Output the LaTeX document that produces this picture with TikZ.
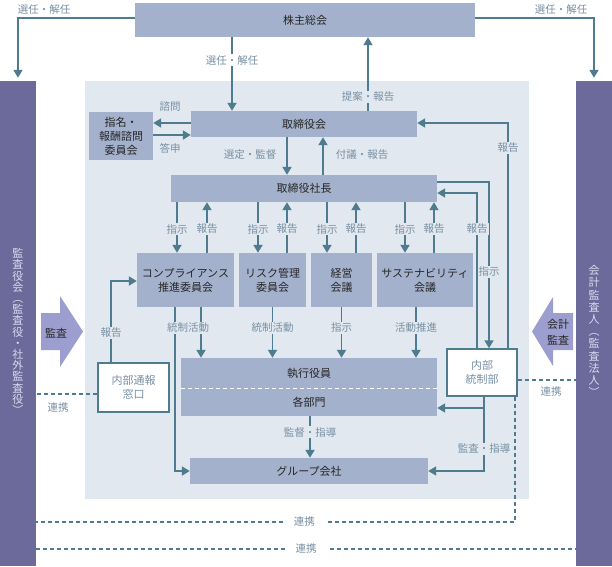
\documentclass[tikz,border=0pt]{standalone}
\usepackage{fontspec}
\setmainfont{Noto Sans CJK JP}
\usetikzlibrary{arrows.meta}
\definecolor{boxc}{HTML}{A4B1CC}
\definecolor{panelc}{HTML}{E1E8EF}
\definecolor{linec}{HTML}{4F7B8E}
\definecolor{lblc}{HTML}{7890A4}
\definecolor{barc}{HTML}{6C6A9B}
\definecolor{bartxt}{HTML}{DADAEE}
\definecolor{auditc}{HTML}{9C9ECF}
\definecolor{txtc}{HTML}{262626}
\begin{document}
\begin{tikzpicture}[x=1pt,y=-1pt,
  box/.style={fill=boxc, text=txtc, font=\fontsize{11}{14}\selectfont, align=center, inner sep=0pt},
  wbox/.style={box, fill=white, draw=linec, line width=1.5pt},
  bar/.style={fill=barc, inner sep=0pt, minimum width=36pt, minimum height=485pt},
  bartext/.style={text=bartxt, align=center, inner sep=0pt},
  arr/.style={draw=linec, line width=1.8pt, -{Triangle[length=8pt,width=9pt]}},
  link/.style={draw=linec, line width=1.5pt, dash pattern=on 4pt off 3pt},
  lbl/.style={text=lblc, font=\fontsize{10.5}{12}\selectfont, fill=panelc, inner sep=1pt},
  wlbl/.style={lbl, fill=white}]
\useasboundingbox (0,0) rectangle (612,566);
\fill[panelc] (85,81) rectangle (529,499);

% boxes
\node[box, minimum width=340pt, minimum height=34pt] (agm) at (305,20) {株主総会};
\node[box, minimum width=226pt, minimum height=26pt] (board) at (304,124) {取締役会};
\node[box, minimum width=64pt, minimum height=48pt] (nomi) at (121,136) {指名・\\報酬諮問\\委員会};
\node[box, minimum width=266pt, minimum height=27pt] (pres) at (304,188.5) {取締役社長};
\node[box, minimum width=97pt, minimum height=54pt] (comp) at (185.5,280) {コンプライアンス\\推進委員会};
\node[box, minimum width=67pt, minimum height=54pt] (risk) at (272.5,280) {リスク管理\\委員会};
\node[box, minimum width=61pt, minimum height=54pt] (mgmt) at (341.5,280) {経営\\会議};
\node[box, minimum width=96pt, minimum height=54pt] (sust) at (425,280) {サステナビリティ\\会議};
\node[box, minimum width=256pt, minimum height=30pt] (exec) at (309,373) {執行役員};
\node[box, minimum width=256pt, minimum height=28pt] (dept) at (309,402) {各部門};
\draw[white, line width=0.8pt, dash pattern=on 4pt off 3pt] (exec.south west) -- (exec.south east);
\node[box, minimum width=238pt, minimum height=26pt] (grp) at (309,471) {グループ会社};
\node[wbox, minimum width=71pt, minimum height=49pt, text=lblc] (whistle) at (133.5,387.5) {内部通報\\窓口};
\node[wbox, minimum width=70pt, minimum height=47pt, text=lblc] (ic) at (482,372.5) {内部\\統制部};

% side bars
\node[bar] (leftbar) at (18,323.5) {};
\node[bartext, font=\fontsize{11}{11.2}\selectfont] (lefttxt) at (18,331.5)
  {監\\査\\役\\会\\︵\\監\\査\\役\\・\\社\\外\\監\\査\\役\\︶};
\node[bar] (rightbar) at (594,323.5) {};
\node[bartext, font=\fontsize{11}{12.2}\selectfont] (righttxt) at (594,331)
  {会\\計\\監\\査\\人\\︵\\監\\査\\法\\人\\︶};
\fill[auditc] (41,313) -- (60,313) -- (60,296) -- (83,331.5) -- (60,367) -- (60,350) -- (41,350) -- cycle;
\node[box, fill=none] (audit) at (56,333) {監査};
\fill[auditc] (573,313) -- (553,313) -- (553,297) -- (532,331.5) -- (553,366) -- (553,350) -- (573,350) -- cycle;
\node[box, fill=none, font=\fontsize{11}{16}\selectfont] (accaudit) at (558,332) {会計\\監査};

% shareholders
\draw[arr, shorten >=3pt] (agm.west |- 0,18) -| (leftbar.north);
\node[wlbl] (sel1) at (44,10) {選任・解任};
\draw[arr, shorten >=3pt] (agm.east |- 0,18) -| (rightbar.north);
\node[wlbl] (sel2) at (561,10) {選任・解任};
\draw[arr] (agm.south -| 232,0) -- (board.north -| 232,0) node[wlbl, pos=0.31] {選任・解任};
\draw[arr] (board.north -| 368,0) -- (agm.south -| 368,0) node[lbl, pos=0.19] {提案・報告};

% board
\draw[arr] (board.west |- 0,123) -- (nomi.east |- 0,123);
\node[lbl] (ask) at (170,107) {諮問};
\draw[arr] (nomi.east |- 0,135) -- (board.west |- 0,135);
\node[lbl] (answer) at (170,148) {答申};
\draw[arr] (board.south -| 287,0) -- (pres.north -| 287,0);
\node[lbl] (supv) at (250,155) {選定・監督};
\draw[arr] (pres.north -| 323,0) -- (board.south -| 323,0);
\node[lbl] (rep) at (362,155) {付議・報告};

% committees
\foreach \c/\a/\b in {comp/177/207, risk/258/287, mgmt/327/356, sust/405/434} {
  \draw[arr] (pres.south -| \a,0) -- (\c.north -| \a,0) node[lbl, pos=0.53] {指示};
  \draw[arr] (\c.north -| \b,0) -- (pres.south -| \b,0) node[lbl, pos=0.47] {報告};
}
\draw[arr] (comp.south -| 175,0) |- (grp.west);
\draw[arr] (comp.south -| 201,0) -- (exec.north -| 201,0);
\node[lbl] (ctl1) at (188,328) {統制活動};
\draw[arr] (risk.south) -- (exec.north -| risk.south) node[lbl, pos=0.41] {統制活動};
\draw[arr] (mgmt.south) -- (exec.north -| mgmt.south) node[lbl, pos=0.41] {指示};
\draw[arr] (sust.south -| 416,0) -- (exec.north -| 416,0) node[lbl, pos=0.41] {活動推進};
\draw[arr] (dept.south -| 310,0) -- (grp.north -| 310,0) node[lbl, pos=0.38] {監督・指導};

% whistle-blowing
\draw[arr] (whistle.north -| 111,0) |- (comp.west |- 0,281) node[lbl, pos=0.18] {報告};

% internal control
\draw[arr] (pres.east |- 0,182) -| (ic.north -| 489,0) node[lbl, pos=0.77] {指示};
\draw[arr] (ic.north -| 477,0) |- (pres.east |- 0,193) node[lbl, pos=0.385] {報告};
\draw[arr] (ic.north -| 508,0) |- (board.east |- 0,123) node[lbl, pos=0.445] {報告};
\draw[arr] (ic.south -| 484,0) |- (dept.east |- 0,408);
\draw[arr] (ic.south -| 484,0) |- (grp.east) node[lbl, pos=0.35] {監査・指導};

% links
\draw[link] (whistle.west |- 0,394) -- (leftbar.east |- 0,394);
\node[wlbl] (lk1) at (58,408) {連携};
\draw[link] (ic.east |- 0,380) -- (rightbar.west |- 0,380);
\node[wlbl] (lk2) at (551,392) {連携};
\draw[link] (ic.south -| 515,0) |- (leftbar.east |- 0,522) node[wlbl, inner xsep=10pt, pos=0.72] {連携};
\draw[link] (leftbar.east |- 0,549) -- (rightbar.west |- 0,549) node[wlbl, inner xsep=10pt, pos=0.5] {連携};
\end{tikzpicture}
\end{document}
